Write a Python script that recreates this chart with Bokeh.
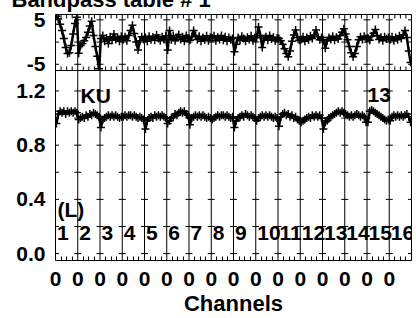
import math
from bokeh.plotting import figure
from bokeh.models import FixedTicker, Label, Range1d, PrintfTickFormatter
from bokeh.core.properties import value
from bokeh.embed import file_html
from bokeh.resources import INLINE

# ---------------- data ----------------
title_text = "Bandpass table # 1"
n_if = 16
n_chan = 12
if_labels = ["1", "2", "3", "4", "5", "6", "7", "8", "9", "10", "11", "12", "13", "14", "15", "16"]
channel_tick_labels = ["0"] * 16
amp_tick_values = [0.0, 0.4, 0.8, 1.2]
amp_cross_values = [0.0, 0.2, 0.4, 0.6, 0.8, 1.0, 1.2]
phase_tick_values = [-5, 5]
phase_cross_values = [-5, 0, 5]

amplitude = [
    0.96, 1.03, 1.05, 1.04, 1.05, 1.03, 1.05, 1.04, 1.05, 1.04, 1.05, 1.04,
    0.99, 1.00, 1.01, 1.00, 1.02, 1.01, 1.03, 1.02, 1.04, 1.03, 1.02, 1.01,
    0.93, 0.99, 1.00, 1.01, 1.02, 1.01, 1.02, 1.01, 1.02, 1.01, 1.00, 1.01,
    1.01, 1.02, 1.01, 1.02, 1.02, 1.01, 1.02, 1.01, 1.00, 1.01, 1.00, 0.99,
    0.92, 0.98, 1.00, 1.01, 1.00, 1.02, 1.01, 1.02, 1.01, 1.02, 1.01, 1.00,
    0.96, 0.98, 1.00, 1.01, 1.03, 1.02, 1.04, 1.05, 1.04, 1.05, 1.03, 1.02,
    0.95, 1.00, 1.01, 1.02, 1.01, 1.02, 1.01, 1.02, 1.01, 1.00, 1.01, 1.00,
    0.99, 1.00, 1.01, 1.02, 1.01, 1.02, 1.02, 1.01, 1.02, 1.01, 1.00, 1.01,
    0.93, 0.98, 1.00, 1.01, 1.02, 1.01, 1.03, 1.02, 1.01, 1.02, 1.01, 1.00,
    0.98, 1.00, 1.01, 1.02, 1.01, 1.02, 1.01, 1.02, 1.01, 1.00, 1.01, 1.00,
    0.94, 1.01, 1.03, 1.04, 1.02, 1.03, 1.01, 1.02, 1.00, 1.01, 0.99, 0.98,
    0.97, 0.98, 0.99, 1.00, 1.01, 1.00, 1.02, 1.01, 1.02, 1.01, 1.02, 1.00,
    0.92, 0.97, 0.98, 1.00, 1.01, 1.02, 1.03, 1.04, 1.05, 1.04, 1.05, 1.04,
    1.03, 1.02, 1.01, 1.02, 1.01, 1.02, 1.03, 1.02, 1.01, 1.02, 1.01, 0.97,
    0.97, 1.05, 1.06, 1.05, 1.04, 1.03, 1.02, 1.01, 1.00, 0.99, 0.98, 0.99,
    0.98, 1.01, 1.02, 1.01, 1.02, 1.01, 1.02, 1.01, 1.02, 1.03, 1.01, 0.97,
]

phase = [
    5.8, 5.2, 4.0, 2.6, 0.8, -1.2, -2.6, -2.4, -0.8, 1.8, 4.2, 5.6,
    -2.5, -0.8, -0.3, 0.3, 1.0, 2.2, 3.6, 4.7, 1.5, -1.0, -3.2, -6.0,
    0.8, 1.5, 0.2, 0.9, -0.3, 1.2, 0.4, 1.8, 0.6, 1.0, 0.2, 1.3,
    0.5, 1.2, 0.3, 1.5, 2.6, 3.8, 1.9, 0.0, -1.8, 0.3, 1.2, 0.6,
    1.0, 0.2, 1.3, 0.5, 1.1, 0.4, 1.6, 0.8, 0.3, 1.2, 0.6, 1.4,
    -1.8, 2.6, 0.5, 1.4, 0.3, 1.0, 1.7, 0.6, 1.2, 0.2, 1.5, 0.9,
    0.4, 1.2, 2.6, 1.5, 0.6, 1.3, 0.2, 1.0, 0.5, 1.4, 0.3, 1.1,
    0.9, 1.4, 0.3, 1.1, 0.6, 1.5, 0.4, 1.2, 0.2, 1.0, 0.5, 0.8,
    -2.2, -0.5, 1.0, 0.4, 1.3, 0.8, 0.2, 1.1, 0.6, 1.4, 0.3, 1.0,
    1.0, 3.4, 1.5, -1.2, 0.8, 1.2, 0.4, 1.5, 0.7, 1.1, 0.3, 0.9,
    0.8, 0.3, -0.5, -1.5, -2.6, -3.3, -2.0, 0.2, 1.6, 2.7, 1.0, 0.4,
    0.6, 1.2, 0.2, 1.0, 0.5, 1.4, 0.8, 1.6, 2.7, 1.2, 0.5, 1.0,
    0.5, -1.4, 0.3, 1.0, 0.6, 1.3, 0.4, 1.1, 0.7, 1.5, 2.2, 3.0,
    1.8, 0.5, -1.0, -2.4, -3.3, -2.6, -1.0, 0.5, 1.2, 0.6, 1.3, 0.8,
    0.9, 0.4, 1.3, 2.0, 2.8, 1.5, 0.6, 1.1, 0.3, 1.2, 0.7, 1.0,
    0.6, 1.2, 0.3, 1.0, 0.5, 1.4, 0.8, 1.6, 2.6, 1.0, -2.0, -4.6,
]

# ---------------- derived positions ----------------
xs = [k * n_chan + c + 0.5 for k in range(n_if) for c in range(n_chan)]
boundaries = [k * n_chan for k in range(n_if + 1)]
quarters = [k * n_chan + q * n_chan / 4 for k in range(n_if) for q in (1, 2, 3)]

FONT = "Liberation Sans"
x_range = Range1d(0, n_if * n_chan)


def style_frame(p, cross_vals):
    p.outline_line_color = "black"
    p.outline_line_width = 1
    p.outline_line_alpha = 1.0
    p.background_fill_color = "white"
    p.border_fill_color = None
    p.xgrid.visible = False
    p.ygrid.visible = False
    ys, ye = p.y_range.start, p.y_range.end
    p.segment(x0=boundaries, y0=[ys] * len(boundaries), x1=boundaries,
              y1=[ye] * len(boundaries), line_color="black", line_width=1)
    cx = [b for b in boundaries for _ in cross_vals]
    cy = [t for _ in boundaries for t in cross_vals]
    p.scatter(x=cx, y=cy, marker="dash", size=7, line_color="black", line_width=1)


def style_yaxis(ax):
    ax.major_label_text_font = FONT
    ax.major_label_text_font_style = "bold"
    ax.major_label_text_font_size = "21px"
    ax.major_label_text_color = "black"
    ax.major_tick_in = 0
    ax.major_tick_out = 0
    ax.minor_tick_in = 0
    ax.minor_tick_out = 0
    ax.axis_line_color = None
    ax.major_label_standoff = 10


# ---------------- top panel: phase ----------------
p1 = figure(width=416, height=106, x_range=x_range, y_range=Range1d(-6.4, 6.2),
            output_backend="svg", toolbar_location=None,
            min_border_left=55, min_border_right=5, min_border_top=40, min_border_bottom=10,
            x_axis_location=None, y_axis_location="left",
            styles={"position": "absolute", "left": "0px", "top": "-26px"})
style_frame(p1, phase_cross_values)
p1.yaxis.ticker = FixedTicker(ticks=phase_tick_values)
p1.yaxis.major_label_overrides = {t: str(t) for t in phase_tick_values}
style_yaxis(p1.yaxis[0])

p1.title.text = title_text
p1.title.align = "left"
p1.title.offset = -44
p1.title.standoff = 5
p1.title.vertical_align = "bottom"
p1.title.text_font = FONT
p1.title.text_font_style = "bold"
p1.title.text_font_size = "22px"
p1.title.text_color = "black"

p1.scatter(x=quarters, y=[p1.y_range.end] * len(quarters), marker="dash",
           angle=math.pi / 2, size=8, line_color="black", line_width=1)
p1.scatter(x=quarters, y=[p1.y_range.start] * len(quarters), marker="dash",
           angle=math.pi / 2, size=8, line_color="black", line_width=1)

p1.line(xs, phase, line_color="black", line_width=2.5)
p1.scatter(xs, phase, marker="cross", size=8, line_color="black", line_width=1.5)

# ---------------- bottom panel: amplitude ----------------
p2 = figure(width=416, height=248, x_range=x_range, y_range=Range1d(-0.051, 1.351),
            output_backend="svg", toolbar_location=None,
            min_border_left=55, min_border_right=5, min_border_top=0, min_border_bottom=56,
            styles={"position": "absolute", "left": "0px", "top": "70px"})
style_frame(p2, amp_cross_values)
p2.yaxis.ticker = FixedTicker(ticks=amp_tick_values)
p2.yaxis.formatter = PrintfTickFormatter(format="%.1f")
style_yaxis(p2.yaxis[0])

xa = p2.xaxis[0]
xa.ticker = FixedTicker(ticks=boundaries[:-1], minor_ticks=quarters)
xa.major_label_overrides = {b: lab for b, lab in zip(boundaries[:-1], channel_tick_labels)}
xa.major_label_text_font = FONT
xa.major_label_text_font_style = "bold"
xa.major_label_text_font_size = "21px"
xa.major_label_text_color = "black"
xa.major_tick_in = 0
xa.major_tick_out = 0
xa.minor_tick_in = 4
xa.minor_tick_out = 0
xa.minor_tick_line_color = "black"
xa.axis_line_color = None
xa.major_label_standoff = 11
xa.axis_label = "Channels"
xa.axis_label_text_font = FONT
xa.axis_label_text_font_style = "bold"
xa.axis_label_text_font_size = "22px"
xa.axis_label_text_color = "black"
xa.axis_label_standoff = 2

p2.line(xs, amplitude, line_color="black", line_width=2.5)
p2.scatter(xs, amplitude, marker="cross", size=8, line_color="black", line_width=1.5)

p2.text(x=[b + 0.8 for b in boundaries[:-1]], y=[0.15] * n_if, text=if_labels,
        text_font=value(FONT), text_font_style="bold", text_font_size="21px",
        text_color="black", text_baseline="alphabetic")

for txt, lx, ly in (("KU", 13.5, 1.163), ("13", 168.3, 1.168), ("(L)", 1.1, 0.329)):
    p2.add_layout(Label(x=lx, y=ly, text=txt, text_font=FONT, text_font_style="bold",
                        text_font_size="21px", text_color="black",
                        text_baseline="alphabetic"))

open("out.html", "w").write(file_html([p1, p2], INLINE))
